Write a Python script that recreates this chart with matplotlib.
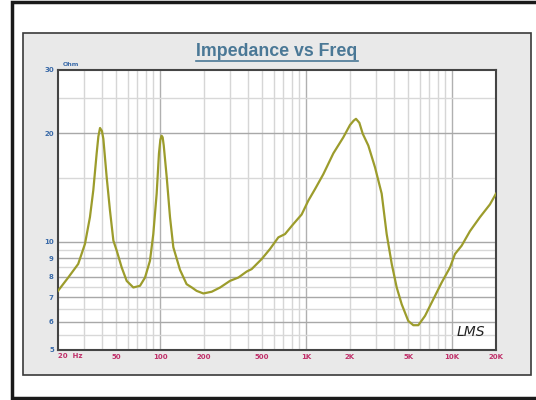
import matplotlib.pyplot as plt
from matplotlib.patches import Rectangle
from matplotlib.ticker import FixedLocator, NullFormatter
import numpy as np

# impedance curve (Hz, Ohm)
freq = [20, 23.5, 27.5, 30.6, 33.1, 34.9, 36.8, 37.8, 38.8, 40.0, 40.9, 43.1, 45.4, 47.9,
        50.5, 54.6, 59.1, 65.6, 72.9, 78.9, 85.3, 89.9, 94.8, 98.3, 100.5, 102.5, 104.2,
        106.0, 111.1, 117, 123.3, 137, 152, 165, 178, 198, 226, 258, 301, 344, 392, 424,
        497, 566, 646, 718, 819, 933, 1036, 1152, 1313, 1538, 1800, 2000, 2120, 2198,
        2318, 2445, 2670, 2966, 3296, 3566, 3863, 4178, 4520, 5016, 5430, 5875, 6530,
        7446, 8490, 9680, 10470, 11640, 13270, 15530, 18190, 20000]
imped = [7.3, 7.95, 8.67, 9.86, 11.7, 13.9, 17.6, 19.6, 20.7, 20.3, 19.3, 15.1, 12.2,
         10.07, 9.44, 8.48, 7.78, 7.46, 7.54, 7.95, 8.85, 10.5, 13.6, 17.6, 19.2, 19.7,
         19.5, 18.5, 15.1, 11.7, 9.65, 8.35, 7.62, 7.46, 7.30, 7.18, 7.26, 7.46, 7.78, 7.95,
         8.26, 8.39, 8.95, 9.54, 10.28, 10.5, 11.2, 11.9, 13.0, 14.0, 15.4, 17.6, 19.5,
         21.1, 21.7, 21.95, 21.4, 19.95, 18.5, 16.1, 13.6, 10.5, 8.67, 7.46, 6.70, 6.02,
         5.86, 5.86, 6.22, 6.92, 7.7, 8.48, 9.24, 9.75, 10.7, 11.7, 12.7, 13.6]

x_ticks = [20, 50, 100, 200, 500, 1000, 2000, 5000, 10000, 20000]
x_labels = ['', '50', '100', '200', '500', '1K', '2K', '5K', '10K', '20K']
y_ticks = [5, 6, 7, 8, 9, 10, 20, 30]
y_minor = [5.5, 6.5, 7.5, 8.5, 9.5, 15, 25]

fig = plt.figure(figsize=(5.36, 4.0), dpi=100)
W, H = 536, 400

# outer frame and grey panel
fig.patches.append(Rectangle((12 / W, 2 / H), 540 / W, 396 / H, transform=fig.transFigure,
                             facecolor='white', edgecolor='#1a1a1a', lw=2.5, zorder=0))
fig.patches.append(Rectangle((23 / W, 25 / H), 508 / W, 342 / H, transform=fig.transFigure,
                             facecolor='#e9e9e9', edgecolor='#3a3a3a', lw=1.2, zorder=0.5))

ax = fig.add_axes([58 / W, 50 / H, 438 / W, 280 / H], zorder=2)
ax.set_facecolor('white')
ax.set_xscale('log')
ax.set_yscale('log')
ax.set_xlim(20, 20000)
ax.set_ylim(5, 30)

# vertical grid: every 1..9 multiple
vlines = [m * d for d in (10, 100, 1000, 10000) for m in range(1, 10)]
vlines = [v for v in vlines if 20 < v < 20000]
for v in vlines:
    major = v in (100, 1000, 10000)
    ax.axvline(v, color='#b0b0b0' if major else '#d6d6d6', lw=1.0, zorder=1)
for y in y_ticks[1:-1]:
    ax.axhline(y, color='#a8a8a8', lw=1.0, zorder=1)
for y in y_minor:
    ax.axhline(y, color='#d8d8d8', lw=1.0, zorder=1)

ax.plot(freq, imped, color='#9c9c2c', lw=1.6, zorder=3)

ax.xaxis.set_major_locator(FixedLocator(x_ticks))
ax.xaxis.set_minor_locator(FixedLocator([]))
ax.xaxis.set_minor_formatter(NullFormatter())
ax.set_xticklabels(x_labels)
ax.yaxis.set_major_locator(FixedLocator(y_ticks))
ax.yaxis.set_minor_locator(FixedLocator([]))
ax.yaxis.set_minor_formatter(NullFormatter())
ax.set_yticklabels([str(v) for v in y_ticks])
ax.tick_params(axis='x', length=0, pad=3, labelsize=5, labelcolor='#c0306a')
ax.tick_params(axis='y', length=0, pad=3, labelsize=5, labelcolor='#3a6aa8')
for lab in ax.get_xticklabels() + ax.get_yticklabels():
    lab.set_fontweight('bold')

ax.text(0.0, -0.012, '20  Hz', transform=ax.transAxes, ha='left', va='top',
        fontsize=5, color='#c0306a', fontweight='bold')
ax.text(0.01, 1.012, 'Ohm', transform=ax.transAxes, ha='left', va='bottom',
        fontsize=4.5, color='#3a6aa8', fontweight='bold')
ax.text(0.975, 0.04, 'LMS', transform=ax.transAxes, ha='right', va='bottom',
        fontsize=10, style='italic', color='#222222', family='DejaVu Sans')

for side in ax.spines.values():
    side.set_color('#444444')
    side.set_linewidth(1.5)

title = fig.text(277 / W, 1 - 51 / H, 'Impedance vs Freq', ha='center', va='center',
                 fontsize=12.8, fontweight='bold', color='#4a7896',
                 family='Liberation Sans', zorder=3)
fig.canvas.draw()
bb = title.get_window_extent()
fig.add_artist(plt.Line2D([bb.x0 / W, bb.x1 / W], [(bb.y0 - 1) / H, (bb.y0 - 1) / H],
                          transform=fig.transFigure, color='#4a7896', lw=1.2, zorder=3))

fig.savefig('out.png', dpi=100)
